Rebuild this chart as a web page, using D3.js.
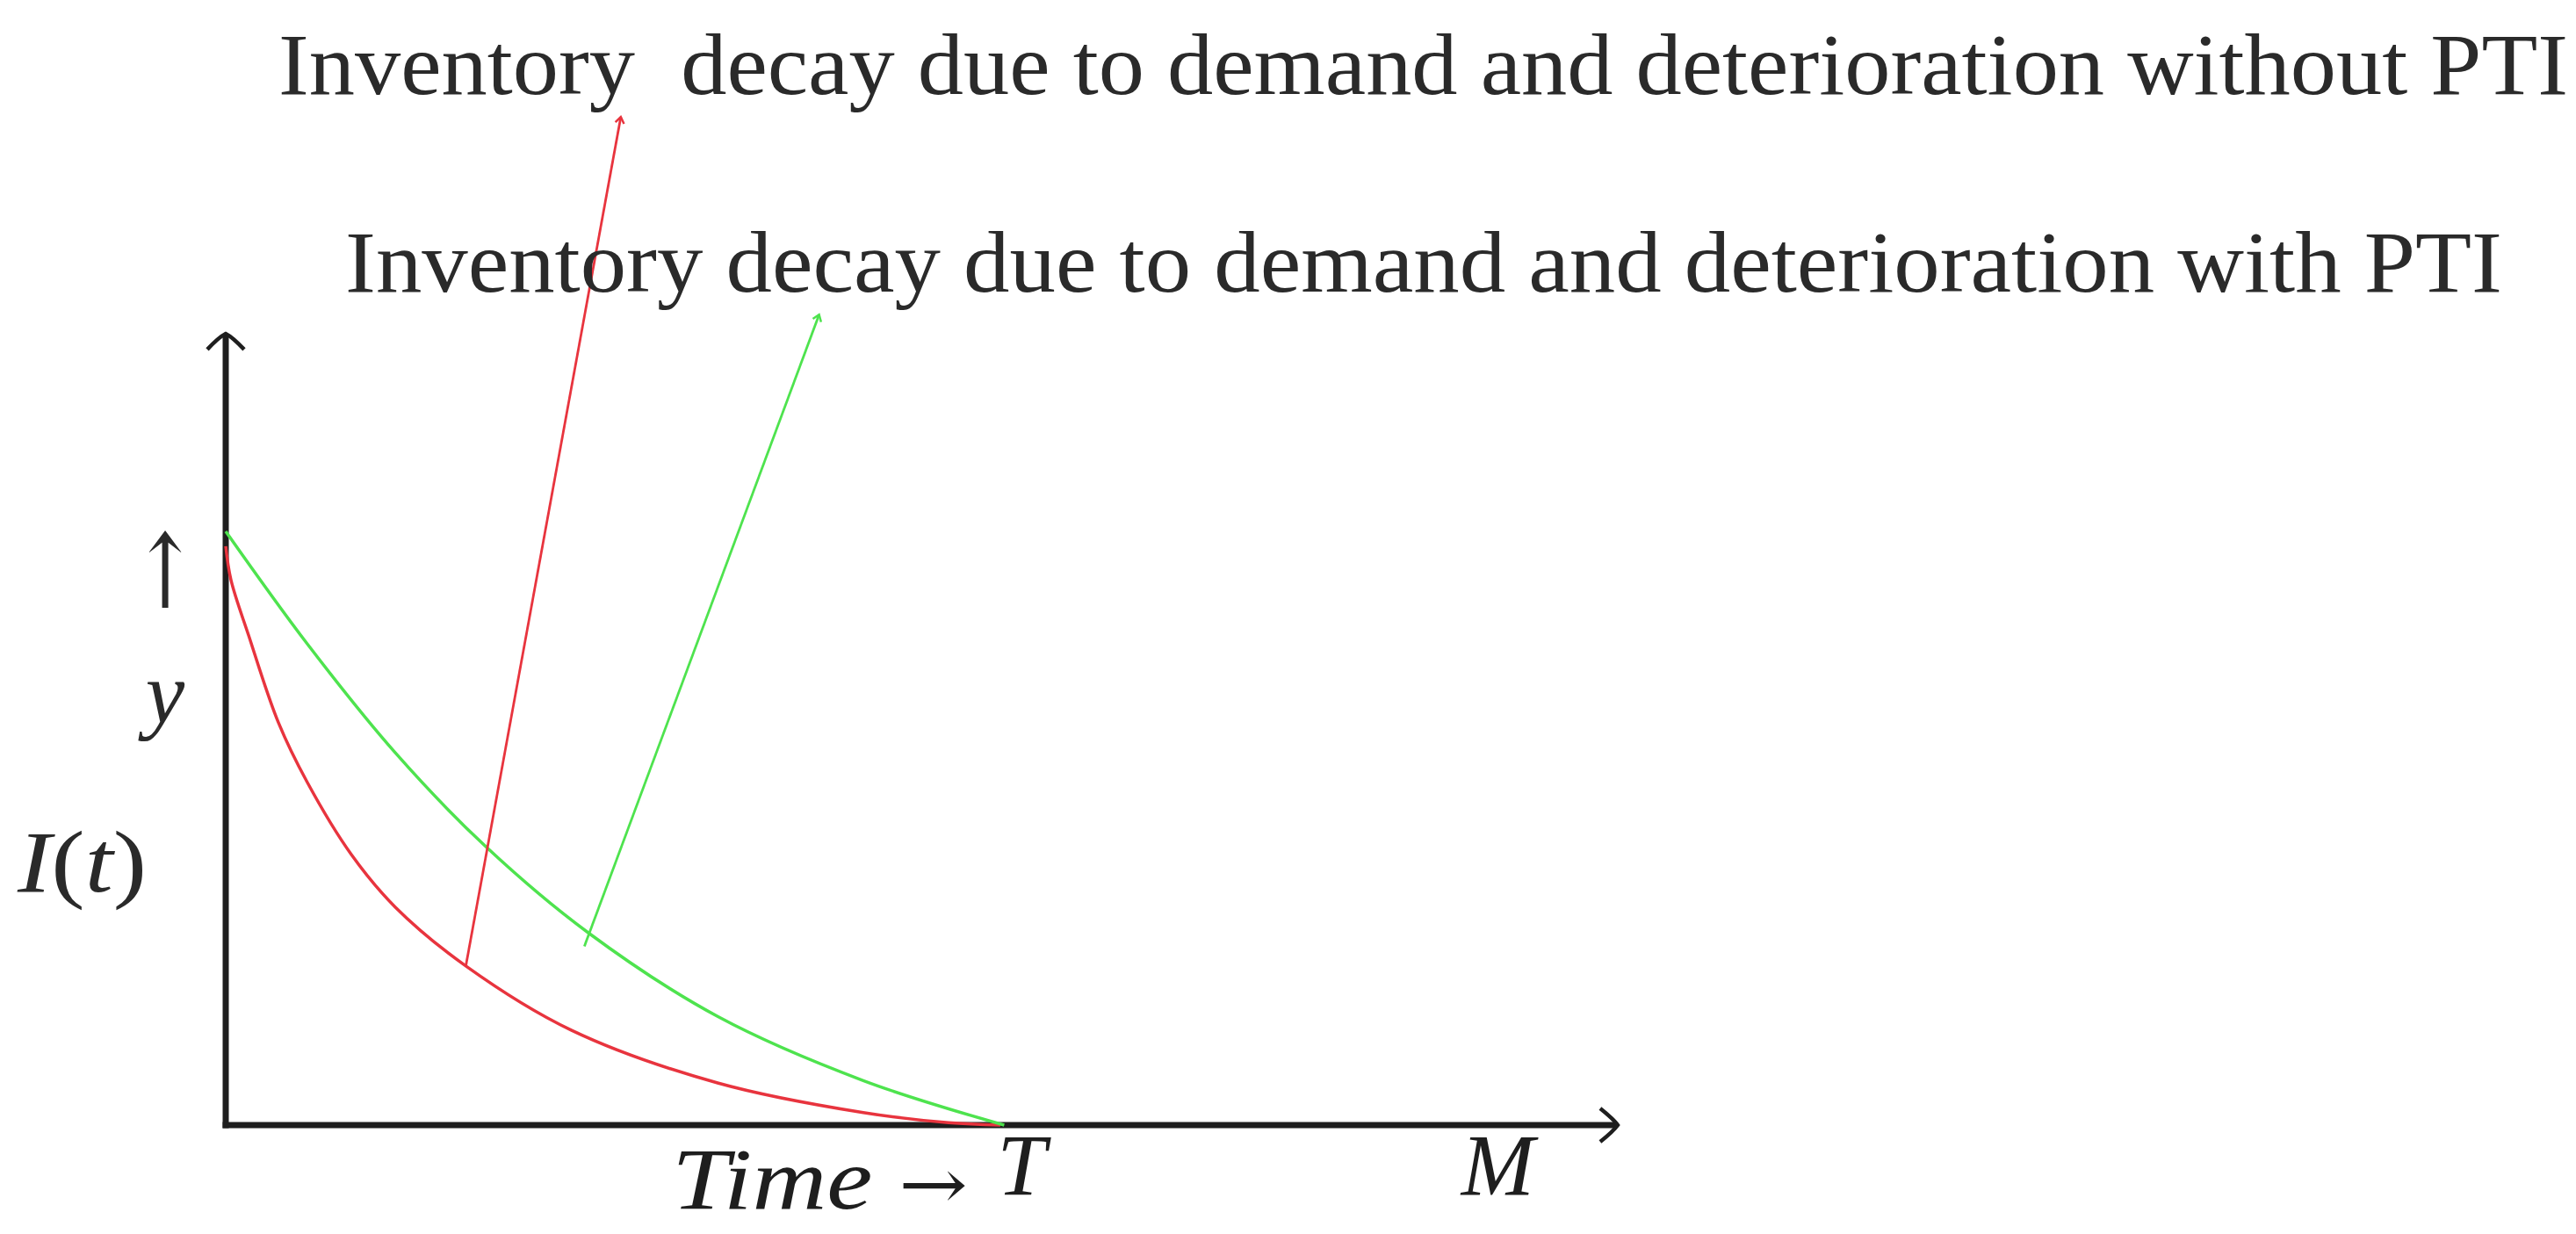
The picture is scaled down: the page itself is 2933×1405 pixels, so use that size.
<!DOCTYPE html>
<html>
<head>
<meta charset="utf-8">
<script src="https://cdn.jsdelivr.net/npm/d3@7"></script>
<style>
  html, body { margin: 0; padding: 0; background: #ffffff; }
  svg { display: block; }
  text { white-space: pre; }
</style>
</head>
<body>
<svg id="chart" width="2933" height="1405"></svg>
<script>
// ---- Data (time in units of T, inventory in units of initial stock) ----
const timeRed  = [0, 0.0068, 0.0295, 0.068, 0.105, 0.162, 0.219, 0.310, 0.446, 0.635, 0.823, 0.933, 1.0];
const invRed   = [0.975, 0.918, 0.825, 0.678, 0.578, 0.456, 0.367, 0.268, 0.160, 0.071, 0.021, 0.004, 0];
const timeGreen = [0, 0.105, 0.219, 0.335, 0.468, 0.635, 0.823, 1.005];
const invGreen  = [1.0, 0.811, 0.627, 0.470, 0.324, 0.183, 0.075, 0];

// annotation pointers: start (on curve) and end (near heading)
const pointerStart = [[0.310, 0.268], [0.463, 0.301]];
const pointerEnd   = [[0.510, 1.698], [0.766, 1.365]];

const headings = [
  "Inventory  decay due to demand and deterioration without PTI",
  "Inventory decay due to demand and deterioration with PTI"
];
const tickNames = ["T", "M"];
const tickValues = [1.0, 1.615];
const axisMax = [1.797, 1.333];

// ---- Drawing ----
const svg = d3.select("#chart");
const x = d3.scaleLinear().domain([0, 1]).range([257, 1139]);
const y = d3.scaleLinear().domain([0, 1]).range([1281, 605]);

const RED = "#e8343e", GREEN = "#4ee34e", INK = "#1e1e1e";

const defs = svg.append("defs");
[["tipRed", RED], ["tipGreen", GREEN]].forEach(([id, c]) => {
  defs.append("marker").attr("id", id)
    .attr("viewBox", "-10 -8 12 16").attr("refX", 0).attr("refY", 0)
    .attr("markerWidth", 12).attr("markerHeight", 16)
    .attr("markerUnits", "userSpaceOnUse").attr("orient", "auto")
    .append("path").attr("d", "M-7,-5 L0,0 L-7,5")
    .attr("fill", "none").attr("stroke", c).attr("stroke-width", 2.5);
});

// axes
const axes = svg.append("g").attr("stroke", INK).attr("fill", "none").attr("stroke-width", 7);
axes.append("line").attr("x1", x(0)).attr("y1", y(0) + 3.5).attr("x2", x(0)).attr("y2", y(axisMax[1]) + 2);
axes.append("line").attr("x1", x(0) - 3.5).attr("y1", y(0)).attr("x2", x(axisMax[0]) - 2).attr("y2", y(0));
// LaTeX-style arrow heads
const ty = y(axisMax[1]), tx = x(axisMax[0]);
svg.append("path")
  .attr("d", `M${x(0) - 21},${ty + 18} Q${x(0) - 8},${ty + 4} ${x(0)},${ty} Q${x(0) + 8},${ty + 4} ${x(0) + 21},${ty + 18}`)
  .attr("fill", "none").attr("stroke", INK).attr("stroke-width", 4.5);
svg.append("path")
  .attr("d", `M${tx - 20},${y(0) - 19} Q${tx - 5},${y(0) - 7} ${tx},${y(0)} Q${tx - 5},${y(0) + 7} ${tx - 20},${y(0) + 19}`)
  .attr("fill", "none").attr("stroke", INK).attr("stroke-width", 4.5);

// curves
const line = d3.line().x(d => x(d[0])).y(d => y(d[1])).curve(d3.curveCatmullRom.alpha(0.5));
const redData = timeRed.map((t, i) => [t, invRed[i]]);
const greenData = timeGreen.map((t, i) => [t, invGreen[i]]);
svg.append("path").datum(redData).attr("d", line)
  .attr("fill", "none").attr("stroke", RED).attr("stroke-width", 3.5);
svg.append("path").datum(greenData).attr("d", line)
  .attr("fill", "none").attr("stroke", GREEN).attr("stroke-width", 3.5);

// pointer lines
const ptrColors = [RED, GREEN], ptrMarkers = ["url(#tipRed)", "url(#tipGreen)"];
pointerStart.forEach((s, i) => {
  svg.append("line")
    .attr("x1", x(s[0])).attr("y1", y(s[1]))
    .attr("x2", x(pointerEnd[i][0])).attr("y2", y(pointerEnd[i][1]))
    .attr("stroke", ptrColors[i]).attr("stroke-width", 2.8)
    .attr("marker-end", ptrMarkers[i]);
});

// headings
const serif = "'Liberation Serif', 'DejaVu Serif', serif";
const headPos = [[317, 107, 2607], [393, 332, 2456]];
headings.forEach((h, i) => {
  svg.append("text").attr("x", headPos[i][0]).attr("y", headPos[i][1])
    .attr("font-family", serif).attr("font-size", 100).attr("fill", "#2a2a2a")
    .attr("textLength", headPos[i][2]).attr("lengthAdjust", "spacingAndGlyphs")
    .text(h);
});

// y-axis label: ↑ y I(t)
svg.append("text").attr("x", 188).attr("y", 692).attr("text-anchor", "middle")
  .attr("font-family", "'DejaVu Serif', serif").attr("font-size", 118).attr("fill", "#2a2a2a")
  .attr("transform", "translate(188,0) scale(0.75,1) translate(-188,0)")
  .text("\u2191");
svg.append("text").attr("x", 188).attr("y", 823).attr("text-anchor", "middle")
  .attr("font-family", serif).attr("font-style", "italic").attr("font-size", 100).attr("fill", "#2a2a2a")
  .text("y");
const it = svg.append("text").attr("x", 20).attr("y", 1015)
  .attr("font-family", serif).attr("font-size", 100).attr("fill", "#2a2a2a")
  .attr("textLength", 147).attr("lengthAdjust", "spacingAndGlyphs");
it.append("tspan").attr("font-style", "italic").text("I");
it.append("tspan").text("(");
it.append("tspan").attr("font-style", "italic").text("t");
it.append("tspan").text(")");

// x-axis labels
const tl = svg.append("text").attr("x", 765).attr("y", 1376)
  .attr("font-family", serif).attr("font-size", 100).attr("fill", "#1e1e1e")
  .attr("textLength", 337).attr("lengthAdjust", "spacingAndGlyphs");
tl.append("tspan").attr("font-style", "italic").text("Time");
tl.append("tspan").attr("font-family", "'DejaVu Serif', serif").attr("font-size", 80).text(" \u2192");

tickNames.forEach((n, i) => {
  svg.append("text").attr("x", x(tickValues[i]) + 24).attr("y", 1360).attr("text-anchor", "middle")
    .attr("font-family", serif).attr("font-style", "italic").attr("font-size", 100).attr("fill", "#1e1e1e")
    .text(n);
});
</script>
</body>
</html>
